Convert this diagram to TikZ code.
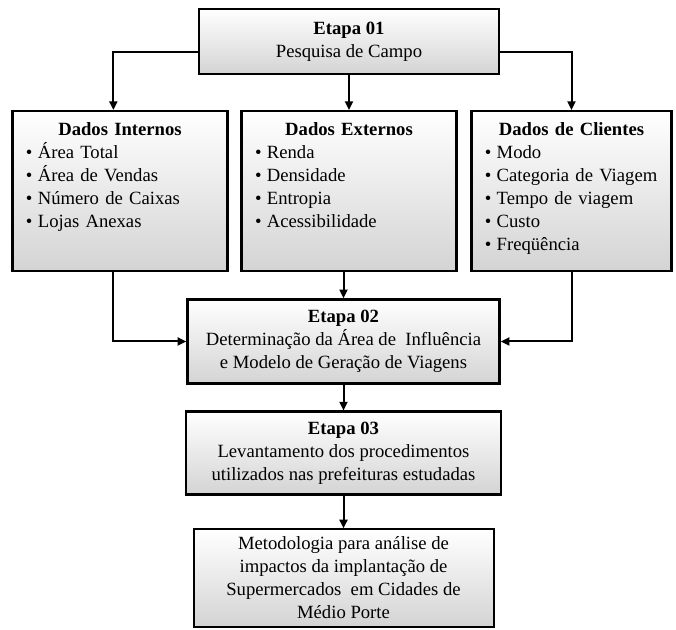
\documentclass[tikz,border=0pt]{standalone}
\usepackage{fontspec}
\setmainfont{Liberation Serif}
\usetikzlibrary{arrows.meta}
\begin{document}
\begin{tikzpicture}[x=0.75pt,y=-0.75pt,
  font=\fontsize{14}{17.25}\selectfont,
  caixa/.style={draw,line width=1.8pt,top color=white,bottom color=black!17},
  etapa/.style={caixa,align=center,inner sep=0pt},
  dados/.style={caixa,anchor=north,inner xsep=10pt,inner ysep=8pt,text height=10pt,text depth=94pt},
  seta/.style={-{Triangle[length=6.5pt,width=6pt]},line width=1.5pt}]
\useasboundingbox (0,0) rectangle (676,630);
\def\bul{\textbullet\hspace{4pt}}
% etapas e caixas de dados
\node[etapa,minimum width=225pt,minimum height=49pt] (e1) at (349,41.5) {\textbf{Etapa 01}\\Pesquisa de Campo};
\node[dados,text width=141pt] (int) at (120,110) {\centering\textbf{Dados Internos}\par\raggedright
  \bul Área Total\\\bul Área de Vendas\\\bul Número de Caixas\\\bul Lojas Anexas};
\node[dados,text width=141pt] (ext) at (349,110) {\centering\textbf{Dados Externos}\par\raggedright
  \bul Renda\\\bul Densidade\\\bul Entropia\\\bul Acessibilidade};
\node[dados,text width=130pt] (cli) at (571.5,110) {\centering\textbf{Dados de Clientes}\par\raggedright
  \bul Modo\\\bul Categoria de Viagem\\\bul Tempo de viagem\\\bul Custo\\\bul Freqüência};
\node[etapa,minimum width=234pt,minimum height=63pt] (e2) at (343.5,341.5) {\textbf{Etapa 02}\\Determinação da Área de\ \ Influência\\e Modelo de Geração de Viagens};
\node[etapa,minimum width=236pt,minimum height=62pt] (e3) at (343.5,453) {\textbf{Etapa 03}\\Levantamento dos procedimentos\\utilizados nas prefeituras estudadas};
\node[etapa,line width=1.5pt,minimum width=225pt,minimum height=73pt] (fim) at (343.5,578) {Metodologia para análise de\\impactos da implantação de\\Supermercados\ \ em Cidades de\\Médio Porte};
% setas
\draw[seta] ([yshift=-8pt]e1.west) -| ([xshift=-5pt]int.north);
\draw[seta] ([yshift=-8pt]e1.east) -| (cli.north);
\draw[seta] (e1.south) -- (ext.north);
\draw[seta] ([xshift=-5pt]int.south) |- (e2.west);
\draw[seta] (cli.south) |- (e2.east);
\draw[seta] (ext.south -| e2.north) -- (e2.north);
\draw[seta] (e2.south) -- (e3.north);
\draw[seta] (e3.south) -- (fim.north);
\end{tikzpicture}
\end{document}
